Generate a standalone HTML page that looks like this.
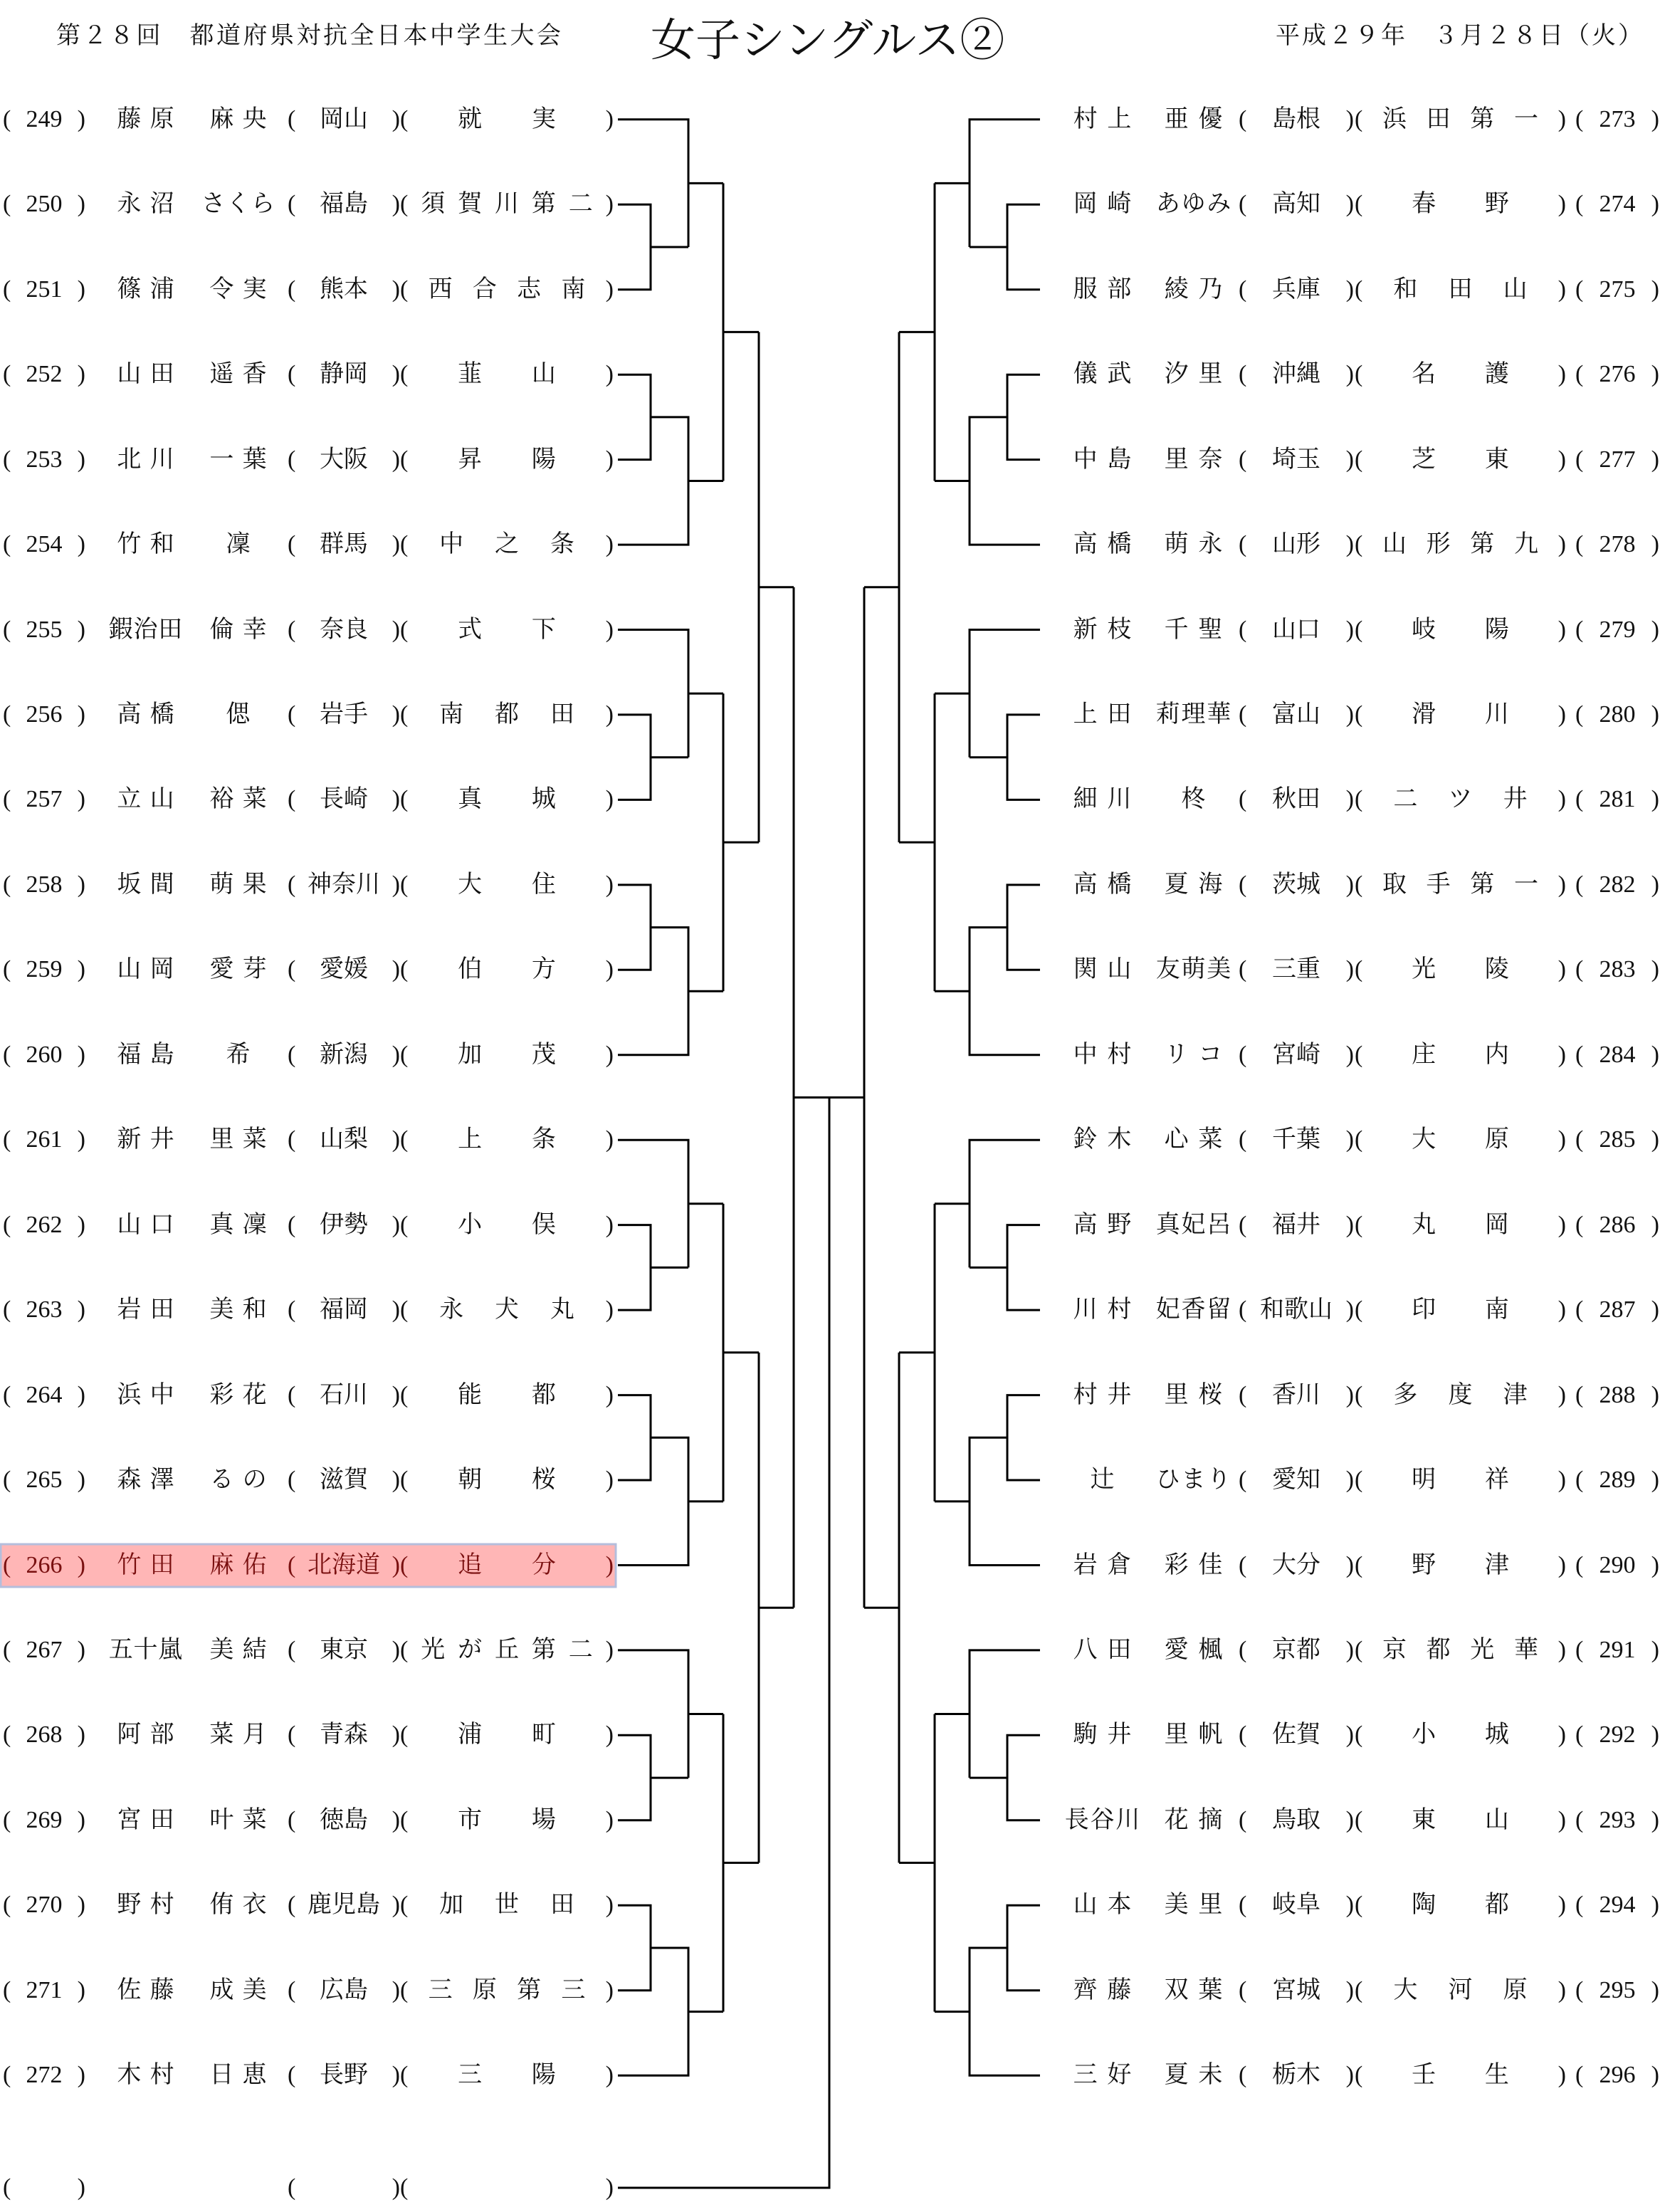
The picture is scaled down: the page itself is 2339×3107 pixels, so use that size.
<!DOCTYPE html>
<html><head><meta charset="utf-8"><style>
body{margin:0;background:#fff}
#w{position:relative;width:2339px;height:3107px;overflow:hidden;font-family:"Liberation Serif","Noto Serif CJK SC",serif;color:#111}
svg{position:absolute;left:0;top:0}
.r{position:absolute;left:0;top:0;width:2339px;height:44px;line-height:44px;font-size:34px}
.r>span{position:absolute;top:0;height:44px;display:flex;justify-content:space-evenly}
.r i{font-style:normal}
.r b{font-weight:normal;flex:1;display:flex;justify-content:space-evenly}
.a,.d,.e,.H,.I,.J{justify-content:space-between!important}
.a{left:4px;width:116px}.b{left:152px;width:105px}.c{left:282px;width:105px}.d{left:404px;width:158px}.e{left:562px;width:300px}
.F{left:1494px;width:109px}.G{left:1622px;width:109px}.H{left:1740px;width:162px}.I{left:1903px;width:297px}.J{left:2213px;width:118px}
.t{position:absolute;white-space:nowrap}
</style></head><body><div id="w">
<svg width="2339" height="3107">
<rect x="1" y="2169" width="864" height="60" fill="#ffb6b6" stroke="#b4bedc" stroke-width="3"/>
<defs>
<path id="sx" d="M868 167.8H967V347M868 287.2H914V406.7H868M914 347H967M967 257.4H1016M868 526.2H914V645.6H868M914 585.9H967V765.1H868M967 675.5H1016M1016 257.4V675.5M1016 466.4H1066"/>
<path id="half" d="M1066 466.4V1183.1M1066 824.8H1115M1066 1899.8V2616.5M1066 2258.2H1115M1115 824.8V2258.2"/>
<g id="side"><use href="#sx"/><use href="#sx" transform="translate(0 716.7)"/><use href="#sx" transform="translate(0 1433.4)"/><use href="#sx" transform="translate(0 2150.1)"/><use href="#half"/></g>
</defs>
<g fill="none" stroke="#000" stroke-width="3">
<use href="#side"/>
<use href="#side" transform="matrix(-1 0 0 1 2329 0)"/>
<path d="M1115 1541.5H1214M1165 1541.5V3073H868"/>
</g>
</svg>
<div class="t" style="left:79px;top:22px;font-size:34px;letter-spacing:3.5px">第２８回　都道府県対抗全日本中学生大会</div>
<div class="t" style="left:914px;top:6px;font-size:63px">女子シングルス②</div>
<div class="t" style="left:1792px;top:22px;font-size:34px;letter-spacing:3px">平成２９年　３月２８日（火）</div>

<div class="r" style="top:146px"><span class="a"><i>(</i><i>249</i><i>)</i></span><span class="b"><i>藤</i><i>原</i></span><span class="c"><i>麻</i><i>央</i></span><span class="d"><i>(</i><i>岡山</i><i>)</i></span><span class="e"><i>(</i><b><i>就</i><i>実</i></b><i>)</i></span></div>
<div class="r" style="top:265px"><span class="a"><i>(</i><i>250</i><i>)</i></span><span class="b"><i>永</i><i>沼</i></span><span class="c"><i>さ</i><i>く</i><i>ら</i></span><span class="d"><i>(</i><i>福島</i><i>)</i></span><span class="e"><i>(</i><b><i>須</i><i>賀</i><i>川</i><i>第</i><i>二</i></b><i>)</i></span></div>
<div class="r" style="top:385px"><span class="a"><i>(</i><i>251</i><i>)</i></span><span class="b"><i>篠</i><i>浦</i></span><span class="c"><i>令</i><i>実</i></span><span class="d"><i>(</i><i>熊本</i><i>)</i></span><span class="e"><i>(</i><b><i>西</i><i>合</i><i>志</i><i>南</i></b><i>)</i></span></div>
<div class="r" style="top:504px"><span class="a"><i>(</i><i>252</i><i>)</i></span><span class="b"><i>山</i><i>田</i></span><span class="c"><i>遥</i><i>香</i></span><span class="d"><i>(</i><i>静岡</i><i>)</i></span><span class="e"><i>(</i><b><i>韮</i><i>山</i></b><i>)</i></span></div>
<div class="r" style="top:624px"><span class="a"><i>(</i><i>253</i><i>)</i></span><span class="b"><i>北</i><i>川</i></span><span class="c"><i>一</i><i>葉</i></span><span class="d"><i>(</i><i>大阪</i><i>)</i></span><span class="e"><i>(</i><b><i>昇</i><i>陽</i></b><i>)</i></span></div>
<div class="r" style="top:743px"><span class="a"><i>(</i><i>254</i><i>)</i></span><span class="b"><i>竹</i><i>和</i></span><span class="c"><i>凜</i></span><span class="d"><i>(</i><i>群馬</i><i>)</i></span><span class="e"><i>(</i><b><i>中</i><i>之</i><i>条</i></b><i>)</i></span></div>
<div class="r" style="top:863px"><span class="a"><i>(</i><i>255</i><i>)</i></span><span class="b"><i>鍜</i><i>治</i><i>田</i></span><span class="c"><i>倫</i><i>幸</i></span><span class="d"><i>(</i><i>奈良</i><i>)</i></span><span class="e"><i>(</i><b><i>式</i><i>下</i></b><i>)</i></span></div>
<div class="r" style="top:982px"><span class="a"><i>(</i><i>256</i><i>)</i></span><span class="b"><i>高</i><i>橋</i></span><span class="c"><i>偲</i></span><span class="d"><i>(</i><i>岩手</i><i>)</i></span><span class="e"><i>(</i><b><i>南</i><i>都</i><i>田</i></b><i>)</i></span></div>
<div class="r" style="top:1101px"><span class="a"><i>(</i><i>257</i><i>)</i></span><span class="b"><i>立</i><i>山</i></span><span class="c"><i>裕</i><i>菜</i></span><span class="d"><i>(</i><i>長崎</i><i>)</i></span><span class="e"><i>(</i><b><i>真</i><i>城</i></b><i>)</i></span></div>
<div class="r" style="top:1221px"><span class="a"><i>(</i><i>258</i><i>)</i></span><span class="b"><i>坂</i><i>間</i></span><span class="c"><i>萌</i><i>果</i></span><span class="d"><i>(</i><i>神奈川</i><i>)</i></span><span class="e"><i>(</i><b><i>大</i><i>住</i></b><i>)</i></span></div>
<div class="r" style="top:1340px"><span class="a"><i>(</i><i>259</i><i>)</i></span><span class="b"><i>山</i><i>岡</i></span><span class="c"><i>愛</i><i>芽</i></span><span class="d"><i>(</i><i>愛媛</i><i>)</i></span><span class="e"><i>(</i><b><i>伯</i><i>方</i></b><i>)</i></span></div>
<div class="r" style="top:1460px"><span class="a"><i>(</i><i>260</i><i>)</i></span><span class="b"><i>福</i><i>島</i></span><span class="c"><i>希</i></span><span class="d"><i>(</i><i>新潟</i><i>)</i></span><span class="e"><i>(</i><b><i>加</i><i>茂</i></b><i>)</i></span></div>
<div class="r" style="top:1579px"><span class="a"><i>(</i><i>261</i><i>)</i></span><span class="b"><i>新</i><i>井</i></span><span class="c"><i>里</i><i>菜</i></span><span class="d"><i>(</i><i>山梨</i><i>)</i></span><span class="e"><i>(</i><b><i>上</i><i>条</i></b><i>)</i></span></div>
<div class="r" style="top:1699px"><span class="a"><i>(</i><i>262</i><i>)</i></span><span class="b"><i>山</i><i>口</i></span><span class="c"><i>真</i><i>凜</i></span><span class="d"><i>(</i><i>伊勢</i><i>)</i></span><span class="e"><i>(</i><b><i>小</i><i>俣</i></b><i>)</i></span></div>
<div class="r" style="top:1818px"><span class="a"><i>(</i><i>263</i><i>)</i></span><span class="b"><i>岩</i><i>田</i></span><span class="c"><i>美</i><i>和</i></span><span class="d"><i>(</i><i>福岡</i><i>)</i></span><span class="e"><i>(</i><b><i>永</i><i>犬</i><i>丸</i></b><i>)</i></span></div>
<div class="r" style="top:1938px"><span class="a"><i>(</i><i>264</i><i>)</i></span><span class="b"><i>浜</i><i>中</i></span><span class="c"><i>彩</i><i>花</i></span><span class="d"><i>(</i><i>石川</i><i>)</i></span><span class="e"><i>(</i><b><i>能</i><i>都</i></b><i>)</i></span></div>
<div class="r" style="top:2057px"><span class="a"><i>(</i><i>265</i><i>)</i></span><span class="b"><i>森</i><i>澤</i></span><span class="c"><i>る</i><i>の</i></span><span class="d"><i>(</i><i>滋賀</i><i>)</i></span><span class="e"><i>(</i><b><i>朝</i><i>桜</i></b><i>)</i></span></div>
<div class="r" style="top:2177px;color:#7a1010"><span class="a"><i>(</i><i>266</i><i>)</i></span><span class="b"><i>竹</i><i>田</i></span><span class="c"><i>麻</i><i>佑</i></span><span class="d"><i>(</i><i>北海道</i><i>)</i></span><span class="e"><i>(</i><b><i>追</i><i>分</i></b><i>)</i></span></div>
<div class="r" style="top:2296px"><span class="a"><i>(</i><i>267</i><i>)</i></span><span class="b"><i>五</i><i>十</i><i>嵐</i></span><span class="c"><i>美</i><i>結</i></span><span class="d"><i>(</i><i>東京</i><i>)</i></span><span class="e"><i>(</i><b><i>光</i><i>が</i><i>丘</i><i>第</i><i>二</i></b><i>)</i></span></div>
<div class="r" style="top:2415px"><span class="a"><i>(</i><i>268</i><i>)</i></span><span class="b"><i>阿</i><i>部</i></span><span class="c"><i>菜</i><i>月</i></span><span class="d"><i>(</i><i>青森</i><i>)</i></span><span class="e"><i>(</i><b><i>浦</i><i>町</i></b><i>)</i></span></div>
<div class="r" style="top:2535px"><span class="a"><i>(</i><i>269</i><i>)</i></span><span class="b"><i>宮</i><i>田</i></span><span class="c"><i>叶</i><i>菜</i></span><span class="d"><i>(</i><i>徳島</i><i>)</i></span><span class="e"><i>(</i><b><i>市</i><i>場</i></b><i>)</i></span></div>
<div class="r" style="top:2654px"><span class="a"><i>(</i><i>270</i><i>)</i></span><span class="b"><i>野</i><i>村</i></span><span class="c"><i>侑</i><i>衣</i></span><span class="d"><i>(</i><i>鹿児島</i><i>)</i></span><span class="e"><i>(</i><b><i>加</i><i>世</i><i>田</i></b><i>)</i></span></div>
<div class="r" style="top:2774px"><span class="a"><i>(</i><i>271</i><i>)</i></span><span class="b"><i>佐</i><i>藤</i></span><span class="c"><i>成</i><i>美</i></span><span class="d"><i>(</i><i>広島</i><i>)</i></span><span class="e"><i>(</i><b><i>三</i><i>原</i><i>第</i><i>三</i></b><i>)</i></span></div>
<div class="r" style="top:2893px"><span class="a"><i>(</i><i>272</i><i>)</i></span><span class="b"><i>木</i><i>村</i></span><span class="c"><i>日</i><i>恵</i></span><span class="d"><i>(</i><i>長野</i><i>)</i></span><span class="e"><i>(</i><b><i>三</i><i>陽</i></b><i>)</i></span></div>
<div class="r" style="top:3051px"><span class="a"><i>(</i><i>)</i></span><span class="d"><i>(</i><i>)</i></span><span class="e"><i>(</i><i>)</i></span></div>

<div class="r" style="top:146px"><span class="F"><i>村</i><i>上</i></span><span class="G"><i>亜</i><i>優</i></span><span class="H"><i>(</i><i>島根</i><i>)</i></span><span class="I"><i>(</i><b><i>浜</i><i>田</i><i>第</i><i>一</i></b><i>)</i></span><span class="J"><i>(</i><i>273</i><i>)</i></span></div>
<div class="r" style="top:265px"><span class="F"><i>岡</i><i>崎</i></span><span class="G"><i>あ</i><i>ゆ</i><i>み</i></span><span class="H"><i>(</i><i>高知</i><i>)</i></span><span class="I"><i>(</i><b><i>春</i><i>野</i></b><i>)</i></span><span class="J"><i>(</i><i>274</i><i>)</i></span></div>
<div class="r" style="top:385px"><span class="F"><i>服</i><i>部</i></span><span class="G"><i>綾</i><i>乃</i></span><span class="H"><i>(</i><i>兵庫</i><i>)</i></span><span class="I"><i>(</i><b><i>和</i><i>田</i><i>山</i></b><i>)</i></span><span class="J"><i>(</i><i>275</i><i>)</i></span></div>
<div class="r" style="top:504px"><span class="F"><i>儀</i><i>武</i></span><span class="G"><i>汐</i><i>里</i></span><span class="H"><i>(</i><i>沖縄</i><i>)</i></span><span class="I"><i>(</i><b><i>名</i><i>護</i></b><i>)</i></span><span class="J"><i>(</i><i>276</i><i>)</i></span></div>
<div class="r" style="top:624px"><span class="F"><i>中</i><i>島</i></span><span class="G"><i>里</i><i>奈</i></span><span class="H"><i>(</i><i>埼玉</i><i>)</i></span><span class="I"><i>(</i><b><i>芝</i><i>東</i></b><i>)</i></span><span class="J"><i>(</i><i>277</i><i>)</i></span></div>
<div class="r" style="top:743px"><span class="F"><i>高</i><i>橋</i></span><span class="G"><i>萌</i><i>永</i></span><span class="H"><i>(</i><i>山形</i><i>)</i></span><span class="I"><i>(</i><b><i>山</i><i>形</i><i>第</i><i>九</i></b><i>)</i></span><span class="J"><i>(</i><i>278</i><i>)</i></span></div>
<div class="r" style="top:863px"><span class="F"><i>新</i><i>枝</i></span><span class="G"><i>千</i><i>聖</i></span><span class="H"><i>(</i><i>山口</i><i>)</i></span><span class="I"><i>(</i><b><i>岐</i><i>陽</i></b><i>)</i></span><span class="J"><i>(</i><i>279</i><i>)</i></span></div>
<div class="r" style="top:982px"><span class="F"><i>上</i><i>田</i></span><span class="G"><i>莉</i><i>理</i><i>華</i></span><span class="H"><i>(</i><i>富山</i><i>)</i></span><span class="I"><i>(</i><b><i>滑</i><i>川</i></b><i>)</i></span><span class="J"><i>(</i><i>280</i><i>)</i></span></div>
<div class="r" style="top:1101px"><span class="F"><i>細</i><i>川</i></span><span class="G"><i>柊</i></span><span class="H"><i>(</i><i>秋田</i><i>)</i></span><span class="I"><i>(</i><b><i>二</i><i>ツ</i><i>井</i></b><i>)</i></span><span class="J"><i>(</i><i>281</i><i>)</i></span></div>
<div class="r" style="top:1221px"><span class="F"><i>高</i><i>橋</i></span><span class="G"><i>夏</i><i>海</i></span><span class="H"><i>(</i><i>茨城</i><i>)</i></span><span class="I"><i>(</i><b><i>取</i><i>手</i><i>第</i><i>一</i></b><i>)</i></span><span class="J"><i>(</i><i>282</i><i>)</i></span></div>
<div class="r" style="top:1340px"><span class="F"><i>関</i><i>山</i></span><span class="G"><i>友</i><i>萌</i><i>美</i></span><span class="H"><i>(</i><i>三重</i><i>)</i></span><span class="I"><i>(</i><b><i>光</i><i>陵</i></b><i>)</i></span><span class="J"><i>(</i><i>283</i><i>)</i></span></div>
<div class="r" style="top:1460px"><span class="F"><i>中</i><i>村</i></span><span class="G"><i>リ</i><i>コ</i></span><span class="H"><i>(</i><i>宮崎</i><i>)</i></span><span class="I"><i>(</i><b><i>庄</i><i>内</i></b><i>)</i></span><span class="J"><i>(</i><i>284</i><i>)</i></span></div>
<div class="r" style="top:1579px"><span class="F"><i>鈴</i><i>木</i></span><span class="G"><i>心</i><i>菜</i></span><span class="H"><i>(</i><i>千葉</i><i>)</i></span><span class="I"><i>(</i><b><i>大</i><i>原</i></b><i>)</i></span><span class="J"><i>(</i><i>285</i><i>)</i></span></div>
<div class="r" style="top:1699px"><span class="F"><i>高</i><i>野</i></span><span class="G"><i>真</i><i>妃</i><i>呂</i></span><span class="H"><i>(</i><i>福井</i><i>)</i></span><span class="I"><i>(</i><b><i>丸</i><i>岡</i></b><i>)</i></span><span class="J"><i>(</i><i>286</i><i>)</i></span></div>
<div class="r" style="top:1818px"><span class="F"><i>川</i><i>村</i></span><span class="G"><i>妃</i><i>香</i><i>留</i></span><span class="H"><i>(</i><i>和歌山</i><i>)</i></span><span class="I"><i>(</i><b><i>印</i><i>南</i></b><i>)</i></span><span class="J"><i>(</i><i>287</i><i>)</i></span></div>
<div class="r" style="top:1938px"><span class="F"><i>村</i><i>井</i></span><span class="G"><i>里</i><i>桜</i></span><span class="H"><i>(</i><i>香川</i><i>)</i></span><span class="I"><i>(</i><b><i>多</i><i>度</i><i>津</i></b><i>)</i></span><span class="J"><i>(</i><i>288</i><i>)</i></span></div>
<div class="r" style="top:2057px"><span class="F"><i>辻</i></span><span class="G"><i>ひ</i><i>ま</i><i>り</i></span><span class="H"><i>(</i><i>愛知</i><i>)</i></span><span class="I"><i>(</i><b><i>明</i><i>祥</i></b><i>)</i></span><span class="J"><i>(</i><i>289</i><i>)</i></span></div>
<div class="r" style="top:2177px"><span class="F"><i>岩</i><i>倉</i></span><span class="G"><i>彩</i><i>佳</i></span><span class="H"><i>(</i><i>大分</i><i>)</i></span><span class="I"><i>(</i><b><i>野</i><i>津</i></b><i>)</i></span><span class="J"><i>(</i><i>290</i><i>)</i></span></div>
<div class="r" style="top:2296px"><span class="F"><i>八</i><i>田</i></span><span class="G"><i>愛</i><i>楓</i></span><span class="H"><i>(</i><i>京都</i><i>)</i></span><span class="I"><i>(</i><b><i>京</i><i>都</i><i>光</i><i>華</i></b><i>)</i></span><span class="J"><i>(</i><i>291</i><i>)</i></span></div>
<div class="r" style="top:2415px"><span class="F"><i>駒</i><i>井</i></span><span class="G"><i>里</i><i>帆</i></span><span class="H"><i>(</i><i>佐賀</i><i>)</i></span><span class="I"><i>(</i><b><i>小</i><i>城</i></b><i>)</i></span><span class="J"><i>(</i><i>292</i><i>)</i></span></div>
<div class="r" style="top:2535px"><span class="F"><i>長</i><i>谷</i><i>川</i></span><span class="G"><i>花</i><i>摘</i></span><span class="H"><i>(</i><i>鳥取</i><i>)</i></span><span class="I"><i>(</i><b><i>東</i><i>山</i></b><i>)</i></span><span class="J"><i>(</i><i>293</i><i>)</i></span></div>
<div class="r" style="top:2654px"><span class="F"><i>山</i><i>本</i></span><span class="G"><i>美</i><i>里</i></span><span class="H"><i>(</i><i>岐阜</i><i>)</i></span><span class="I"><i>(</i><b><i>陶</i><i>都</i></b><i>)</i></span><span class="J"><i>(</i><i>294</i><i>)</i></span></div>
<div class="r" style="top:2774px"><span class="F"><i>齊</i><i>藤</i></span><span class="G"><i>双</i><i>葉</i></span><span class="H"><i>(</i><i>宮城</i><i>)</i></span><span class="I"><i>(</i><b><i>大</i><i>河</i><i>原</i></b><i>)</i></span><span class="J"><i>(</i><i>295</i><i>)</i></span></div>
<div class="r" style="top:2893px"><span class="F"><i>三</i><i>好</i></span><span class="G"><i>夏</i><i>未</i></span><span class="H"><i>(</i><i>栃木</i><i>)</i></span><span class="I"><i>(</i><b><i>壬</i><i>生</i></b><i>)</i></span><span class="J"><i>(</i><i>296</i><i>)</i></span></div>
</div></body></html>
